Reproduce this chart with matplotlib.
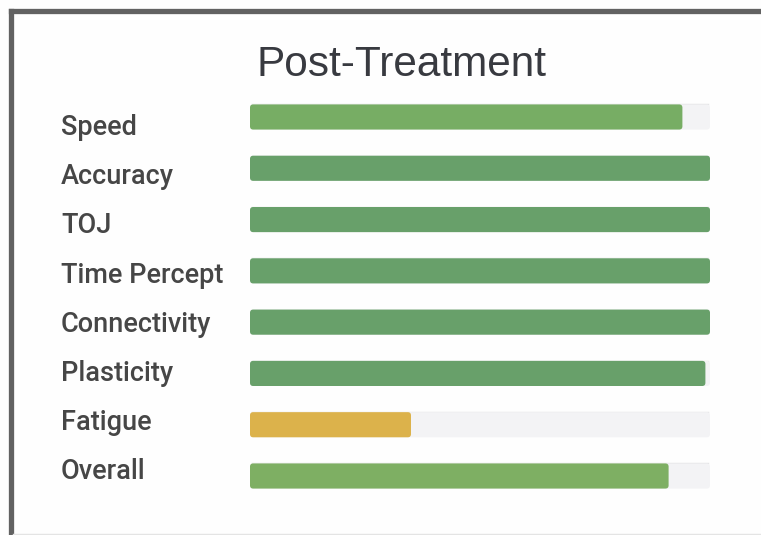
"""Post-Treatment progress bars -> out.png."""

import matplotlib

matplotlib.use("Agg")
import matplotlib.pyplot as plt  # noqa: E402
from matplotlib.patches import FancyBboxPatch  # noqa: E402
from matplotlib.lines import Line2D  # noqa: E402

CATEGORIES = ["Speed", "Accuracy", "TOJ", "Time Percept", "Connectivity",
              "Plasticity", "Fatigue", "Overall"]
VALUES = [94, 100, 100, 100, 100, 99, 35, 91]
COLORS = ["#77ad64", "#68a06a", "#68a06a", "#68a06a", "#68a06a",
          "#68a06a", "#dcb24b", "#7eaf63"]
MAXVAL = 100

W, H = 761, 535


def rounded_barh(ax, y, width, height, color, aspect):
    # bar with small rounded corners, in data coords
    p = FancyBboxPatch((0, y - height / 2), width, height,
                       boxstyle="round,pad=0,rounding_size=0.7",
                       mutation_aspect=aspect, fc=color, ec="none", zorder=2)
    ax.add_patch(p)


def main():
    fig = plt.figure(figsize=(W / 100, H / 100), dpi=100)
    fig.patch.set_facecolor("#fefefe")

    # axes covers the bar tracks (pixel layout of the reference)
    x0, x1 = 250, 710
    y_top, y_bot = 91.35, 501.65
    ax = fig.add_axes([x0 / W, 1 - y_bot / H, (x1 - x0) / W, (y_bot - y_top) / H])
    ax.set_xlim(0, MAXVAL)
    ax.set_ylim(len(CATEGORIES) - 0.5, -0.5)
    ax.axis("off")

    aspect = (8 / 410.3) / (MAXVAL / 460)
    bh = 0.49
    for i, (val, col) in enumerate(zip(VALUES, COLORS)):
        rounded_barh(ax, i, MAXVAL, bh, "#f3f3f5", aspect)
        ax.plot([0.5, MAXVAL - 0.5], [i - bh / 2, i - bh / 2], color="#e2e2e4",
                lw=1, zorder=1.5)
        rounded_barh(ax, i, val, bh, col, aspect)

    # labels sit on their own slightly tighter baseline grid
    for i, cat in enumerate(CATEGORIES):
        base = 135 + 49.2 * i
        fig.text(61 / W, 1 - base / H, cat, ha="left", va="baseline",
                 fontsize=19.5, family="Roboto", fontweight="medium",
                 color="#464646")

    fig.text(401 / W, 1 - 75.5 / H, "Post-Treatment", ha="center", va="baseline",
             fontsize=30.5, family="Liberation Sans", color="#383a40")

    # frame: thick left and top border, faint bottom line
    fig.add_artist(Line2D([10.5 / W, 10.5 / W], [0, 1 - 10.5 / H], color="#626262",
                          lw=3.8, transform=fig.transFigure, solid_capstyle="projecting"))
    fig.add_artist(Line2D([10.5 / W, 1], [1 - 10.5 / H, 1 - 10.5 / H], color="#626262",
                          lw=3.8, transform=fig.transFigure, solid_capstyle="projecting"))
    fig.add_artist(Line2D([13 / W, 1], [1 - 533.5 / H, 1 - 533.5 / H], color="#e4e4e4",
                          lw=1, transform=fig.transFigure))

    fig.savefig("out.png", dpi=100, facecolor=fig.get_facecolor())


if __name__ == "__main__":
    main()
